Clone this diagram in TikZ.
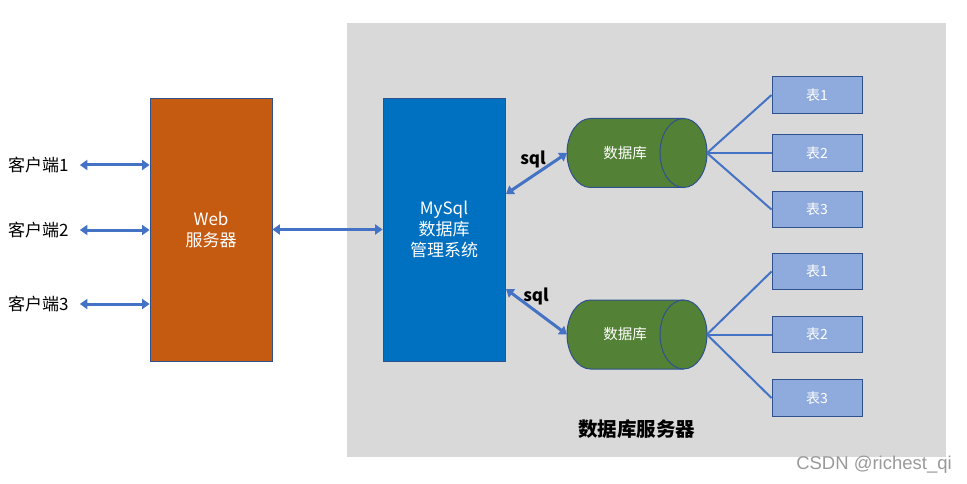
\documentclass[tikz,border=0pt]{standalone}
\usepackage{fontspec}
\setmainfont{Noto Sans CJK SC}
\newfontfamily\wmfont{Liberation Sans}
\usetikzlibrary{arrows.meta}
\definecolor{bgray}{HTML}{D9D9D9}
\definecolor{webor}{HTML}{C55A11}
\definecolor{mysqlblue}{HTML}{0070C0}
\definecolor{linkblue}{HTML}{4472C4}
\definecolor{edgeblue}{HTML}{2F528F}
\definecolor{dbgreen}{HTML}{538135}
\definecolor{tabblue}{HTML}{8FAADC}
\tikzset{
  bigbox/.style={draw=edgeblue, line width=0.8pt, minimum width=122pt, minimum height=263pt, text=white, align=center, font=\fontsize{17}{21}\selectfont},
  tabbox/.style={draw=edgeblue, line width=1pt, fill=tabblue, minimum width=90pt, minimum height=36.5pt, text=white, font=\fontsize{14}{17}\selectfont},
  clientlbl/.style={font=\fontsize{17}{20}\selectfont, anchor=west, inner sep=0pt},
  biarrow/.style={draw=linkblue, line width=3pt, {Triangle[length=7.5pt,width=10pt]}-{Triangle[length=7.5pt,width=10pt]}},
  tabline/.style={draw=linkblue, line width=2pt},
  dblbl/.style={text=white, font=\fontsize{14.5}{17}\selectfont},
  sqllbl/.style={font=\bfseries\fontsize{17}{20}\selectfont}
}
\begin{document}
\begin{tikzpicture}[x=1pt,y=-1pt]
\useasboundingbox (0,0) rectangle (967,484);
% background of database server
\fill[bgray] (347,23) rectangle (946,457);
\node[font=\bfseries\fontsize{19.5}{23}\selectfont] (srvlbl) at (636.5,429) {数据库服务器};
\node[text=black!40, font=\wmfont\fontsize{18.5}{21}\selectfont] (wm) at (874,465) {CSDN @richest\_qi};

% clients
\node[clientlbl] (c1) at (8,165) {客户端1};
\node[clientlbl] (c2) at (8,230) {客户端2};
\node[clientlbl] (c3) at (8,304) {客户端3};

% web server
\node[bigbox, fill=webor] (web) at (211,229.5) {Web\\服务器};
% mysql
\node[bigbox, fill=mysqlblue] (mysql) at (444,229.5) {MySql\\数据库\\管理系统};

% client arrows
\draw[biarrow] ([xshift=11pt]c1.east) -- (c1 -| web.west);
\draw[biarrow] ([xshift=11pt]c2.east) -- (c2 -| web.west);
\draw[biarrow] ([xshift=11pt]c3.east) -- (c3 -| web.west);
\draw[biarrow] (web.east) -- (mysql.west);

% databases
\foreach \n/\cy in {1/153, 2/334.5}{
  \fill[dbgreen] (590.5,\cy-34.5) -- (683.5,\cy-34.5) arc(-90:90:23.5 and 34.5) -- (590.5,\cy+34.5) arc(90:270:23.5 and 34.5) -- cycle;
  \draw[edgeblue, line width=1pt] (590.5,\cy-34.5) -- (683.5,\cy-34.5) (683.5,\cy+34.5) -- (590.5,\cy+34.5) arc(90:270:23.5 and 34.5);
  \draw[edgeblue, line width=1pt] (683.5,\cy) ellipse (23.5 and 34.5);
  \coordinate (db\n w) at (567,\cy);
  \coordinate (db\n e) at (707,\cy);
  \node[dblbl] (db\n) at (625,\cy) {数据库};
}

% sql arrows
\coordinate (sqlA) at (506,194);
\coordinate (sqlB) at (506,289);
\draw[biarrow] (sqlA) -- (db1w);
\draw[biarrow] (sqlB) -- (db2w);
\node[sqllbl] (sql1) at (533,159) {sql};
\node[sqllbl] (sql2) at (536,296) {sql};

% tables
\node[tabbox] (t11) at (817,95) {表1};
\node[tabbox] (t12) at (817,153) {表2};
\node[tabbox] (t13) at (817,209.5) {表3};
\node[tabbox] (t21) at (817,271.5) {表1};
\node[tabbox] (t22) at (817,334.5) {表2};
\node[tabbox] (t23) at (817,398) {表3};

\draw[tabline] (db1e) -- (t11.west);
\draw[tabline] (db1e) -- (t12.west);
\draw[tabline] (db1e) -- (t13.west);
\draw[tabline] (db2e) -- (t21.west);
\draw[tabline] (db2e) -- (t22.west);
\draw[tabline] (db2e) -- (t23.west);
\end{tikzpicture}
\end{document}
